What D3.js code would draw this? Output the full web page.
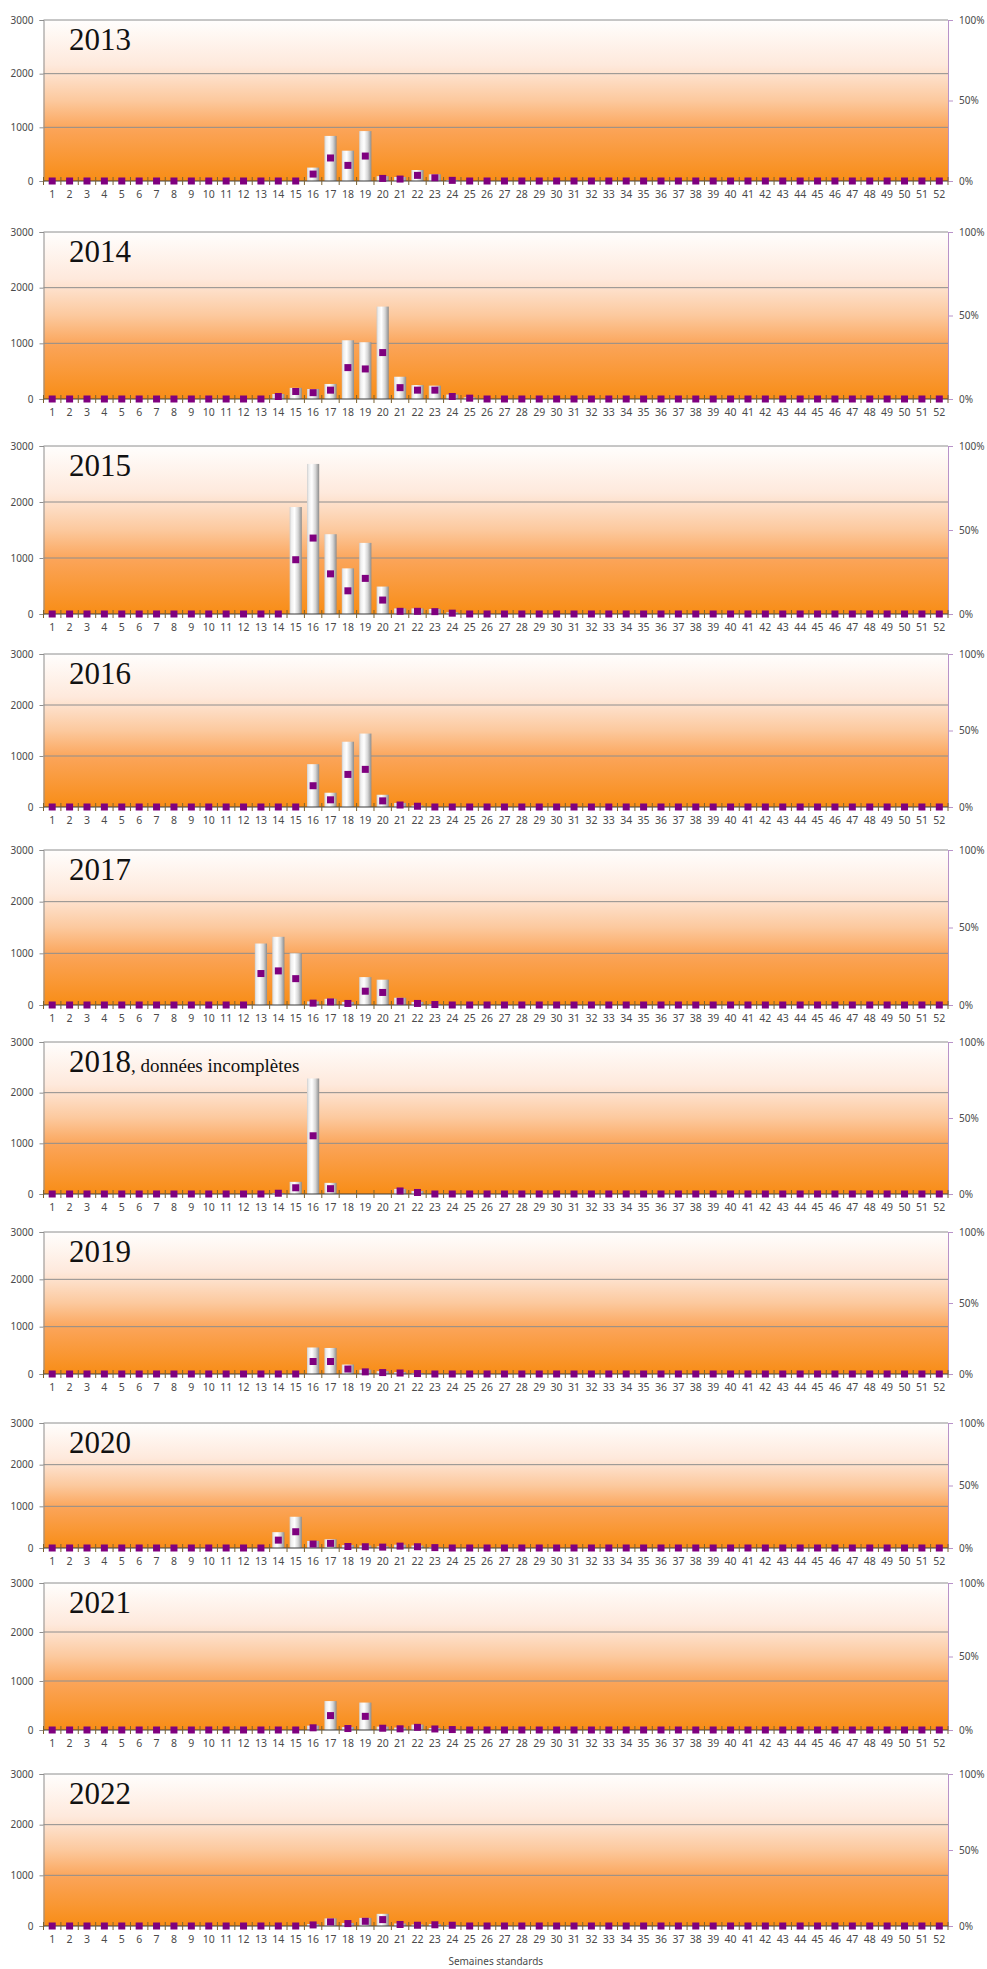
<!DOCTYPE html>
<html><head><meta charset="utf-8">
<script src="https://cdn.jsdelivr.net/npm/d3@7"></script>
<style>body{margin:0;background:#fff} svg{display:block}</style>
</head><body><svg id="c" width="987" height="1969"></svg>
<script>
// ---------------- DATA ----------------
const weeks = ["1","2","3","4","5","6","7","8","9","10","11","12","13","14","15","16","17","18","19","20","21","22","23","24","25","26","27","28","29","30","31","32","33","34","35","36","37","38","39","40","41","42","43","44","45","46","47","48","49","50","51","52"];
const years = ["2013","2014","2015","2016","2017","2018","2019","2020","2021","2022"];
const yearNotes = ["","","","","",", données incomplètes","","","",""];
const leftTicks = [0, 1000, 2000, 3000];
const rightTicks = [0, 50, 100];
const rightTickLabels = ["0%", "50%", "100%"];
const xAxisTitle = "Semaines standards";

const cases2013 = [0,0,0,0,0,0,0,0,0,0,
                   0,0,0,0,0,250,840,565,930,90,
                   75,205,125,20,0,0,0,0,0,0,
                   0,0,0,0,0,0,0,0,0,0,
                   0,0,0,0,0,0,0,0,0,0,
                   0,0];
const pct2013   = [0,0,0,0,0,0,0,0,0,0,
                   0,0,0,0,0,4.3,14.3,9.7,15.5,1.6,
                   1.2,3.5,2.0,0.4,0,0,0,0,0,0,
                   0,0,0,0,0,0,0,0,0,0,
                   0,0,0,0,0,0,0,0,0,0,
                   0,0];
const cases2014 = [0,0,0,0,0,0,0,0,0,0,
                   0,0,0,90,200,180,270,1055,1020,1660,
                   400,250,240,80,30,0,0,0,0,0,
                   0,0,0,0,0,0,0,0,0,0,
                   0,0,0,0,0,0,0,0,0,0,
                   0,0];
const pct2014   = [0,0,0,0,0,0,0,0,0,0,
                   0,0,0,1.5,4.5,3.8,5.3,18.8,18.0,27.8,
                   6.8,5.3,5.3,1.5,0.5,0,0,0,0,0,
                   0,0,0,0,0,0,0,0,0,0,
                   0,0,0,0,0,0,0,0,0,0,
                   0,0];
const cases2015 = [0,0,0,0,0,0,0,0,0,0,
                   0,0,0,0,1910,2680,1425,815,1270,490,
                   100,100,90,30,0,0,0,0,0,0,
                   0,0,0,0,0,0,0,0,0,0,
                   0,0,0,0,0,0,0,0,0,0,
                   0,0];
const pct2015   = [0,0,0,0,0,0,0,0,0,0,
                   0,0,0,0,32.3,45.2,23.9,13.8,21.2,8.3,
                   1.6,1.6,1.4,0.5,0,0,0,0,0,0,
                   0,0,0,0,0,0,0,0,0,0,
                   0,0,0,0,0,0,0,0,0,0,
                   0,0];
const cases2016 = [0,0,0,0,0,0,0,0,0,0,
                   0,0,0,0,0,840,280,1280,1440,240,
                   80,30,0,0,0,0,0,0,0,0,
                   0,0,0,0,0,0,0,0,0,0,
                   0,0,0,0,0,0,0,0,0,0,
                   0,0];
const pct2016   = [0,0,0,0,0,0,0,0,0,0,
                   0,0,0,0,0,13.9,4.7,21.3,24.6,4.0,
                   1.3,0.5,0,0,0,0,0,0,0,0,
                   0,0,0,0,0,0,0,0,0,0,
                   0,0,0,0,0,0,0,0,0,0,
                   0,0];
const cases2017 = [0,0,0,0,0,0,0,0,0,0,
                   0,0,1190,1320,1000,70,120,60,540,490,
                   140,60,20,0,0,0,0,0,0,0,
                   0,0,0,0,0,0,0,0,0,0,
                   0,0,0,0,0,0,0,0,0,0,
                   0,0];
const pct2017   = [0,0,0,0,0,0,0,0,0,0,
                   0,0,20.3,22.0,17.0,1.2,2.0,1.0,8.9,8.1,
                   2.4,1.0,0.3,0,0,0,0,0,0,0,
                   0,0,0,0,0,0,0,0,0,0,
                   0,0,0,0,0,0,0,0,0,0,
                   0,0];
const cases2018 = [0,0,0,0,0,0,0,0,0,0,
                   0,0,0,20,240,2280,220,null,null,null,
                   100,60,0,0,0,0,0,0,0,0,
                   0,0,0,0,0,0,0,0,0,0,
                   0,0,0,0,0,0,0,0,0,0,
                   0,0];
const pct2018   = [0,0,0,0,0,0,0,0,0,0,
                   0,0,0,0.5,4.1,38.3,3.5,null,null,null,
                   2.0,1.0,0,0,0,0,0,0,0,0,
                   0,0,0,0,0,0,0,0,0,0,
                   0,0,0,0,0,0,0,0,0,0,
                   0,0];
const cases2019 = [0,0,0,0,0,0,0,0,0,0,
                   0,0,0,0,0,560,550,200,90,60,
                   40,20,0,0,0,0,0,0,0,0,
                   0,0,0,0,0,0,0,0,0,0,
                   0,0,0,0,0,0,0,0,0,0,
                   0,0];
const pct2019   = [0,0,0,0,0,0,0,0,0,0,
                   0,0,0,0,0,8.8,8.8,3.5,1.5,1.0,
                   0.7,0.3,0,0,0,0,0,0,0,0,
                   0,0,0,0,0,0,0,0,0,0,
                   0,0,0,0,0,0,0,0,0,0,
                   0,0];
const cases2020 = [0,0,0,0,0,0,0,0,0,0,
                   0,0,0,380,750,170,210,70,60,40,
                   80,60,20,0,0,0,0,0,0,0,
                   0,0,0,0,0,0,0,0,0,0,
                   0,0,0,0,0,0,0,0,0,0,
                   0,0];
const pct2020   = [0,0,0,0,0,0,0,0,0,0,
                   0,0,0,6.3,13.0,3.2,3.7,1.2,1.0,0.7,
                   1.5,1.0,0.3,0,0,0,0,0,0,0,
                   0,0,0,0,0,0,0,0,0,0,
                   0,0,0,0,0,0,0,0,0,0,
                   0,0];
const cases2021 = [0,0,0,0,0,0,0,0,0,0,
                   0,0,0,0,0,90,590,60,560,70,
                   50,110,40,20,0,0,0,0,0,0,
                   0,0,0,0,0,0,0,0,0,0,
                   0,0,0,0,0,0,0,0,0,0,
                   0,0];
const pct2021   = [0,0,0,0,0,0,0,0,0,0,
                   0,0,0,0,0,1.5,9.8,1.0,9.3,1.2,
                   0.8,1.8,0.7,0.3,0,0,0,0,0,0,
                   0,0,0,0,0,0,0,0,0,0,
                   0,0,0,0,0,0,0,0,0,0,
                   0,0];
const cases2022 = [0,0,0,0,0,0,0,0,0,0,
                   0,0,0,0,0,40,150,60,160,240,
                   50,30,40,20,0,0,0,0,0,0,
                   0,0,0,0,0,0,0,0,0,0,
                   0,0,0,0,0,0,0,0,0,0,
                   0,0];
const pct2022   = [0,0,0,0,0,0,0,0,0,0,
                   0,0,0,0,0,0.7,2.7,1.6,3.1,4.2,
                   1.0,0.5,0.8,0.5,0,0,0,0,0,0,
                   0,0,0,0,0,0,0,0,0,0,
                   0,0,0,0,0,0,0,0,0,0,
                   0,0];

const casesByYear = [cases2013,cases2014,cases2015,cases2016,cases2017,cases2018,cases2019,cases2020,cases2021,cases2022];
const pctByYear   = [pct2013,pct2014,pct2015,pct2016,pct2017,pct2018,pct2019,pct2020,pct2021,pct2022];

// ---------------- LAYOUT ----------------
const plotLeft = 43.5, plotRight = 948;
const panelTops  = [20, 232, 446, 654, 850, 1042, 1232, 1423, 1583, 1774];
const panelZeros = [181, 399, 614, 807, 1005, 1194, 1374, 1548, 1730, 1926];

const svg = d3.select("#c");
const defs = svg.append("defs");
const bg = defs.append("linearGradient").attr("id","bgGrad").attr("x1",0).attr("y1",0).attr("x2",0).attr("y2",1);
[[0,"#fffefd"],[0.28,"#fee9dc"],[0.5,"#fcc99e"],[0.68,"#fba458"],[1,"#f88d16"]].forEach(s=>bg.append("stop").attr("offset",s[0]).attr("stop-color",s[1]));
const bar = defs.append("linearGradient").attr("id","barGrad").attr("x1",0).attr("y1",0).attr("x2",1).attr("y2",0);
[[0,"#cfcfcf"],[0.15,"#efefef"],[0.4,"#ffffff"],[0.7,"#d6d6d6"],[1,"#8c8c8c"]].forEach(s=>bar.append("stop").attr("offset",s[0]).attr("stop-color",s[1]));

const x = d3.scaleBand().domain(weeks).range([plotLeft, plotRight]).paddingInner(0.3).paddingOuter(0.15);
const labelFont = "'Noto Sans', 'Open Sans', sans-serif";

years.forEach((yr, i) => {
  const top = panelTops[i], zero = panelZeros[i];
  const y = d3.scaleLinear().domain([0, 3000]).range([zero, top]);
  const y2 = d3.scaleLinear().domain([0, 100]).range([zero, top]);
  const g = svg.append("g");

  g.append("rect").attr("x", plotLeft).attr("y", top).attr("width", plotRight - plotLeft)
    .attr("height", zero - top).attr("fill", "url(#bgGrad)");

  g.selectAll("line.grid").data(leftTicks.filter(t => t > 0)).join("line")
    .attr("x1", plotLeft).attr("x2", plotRight)
    .attr("y1", d => y(d)).attr("y2", d => y(d))
    .attr("stroke", "#8e8e8e").attr("stroke-width", 1);

  const la = g.append("g").attr("transform", `translate(${plotLeft},0)`)
    .call(d3.axisLeft(y).tickValues(leftTicks).tickFormat(d3.format("d")).tickSize(4).tickPadding(6));
  la.select(".domain").attr("stroke", "#8e8e8e");
  la.selectAll(".tick line").attr("stroke", "#8e8e8e");
  la.selectAll("text").attr("font-family", labelFont).attr("font-size", 10).attr("fill", "#4a4a4a");

  const ra = g.append("g").attr("transform", `translate(${plotRight},0)`)
    .call(d3.axisRight(y2).tickValues(rightTicks).tickFormat((d, k) => rightTickLabels[k]).tickSize(5).tickPadding(6));
  ra.select(".domain").attr("stroke", "#b893c9");
  ra.selectAll(".tick line").attr("stroke", "#b893c9");
  ra.selectAll("text").attr("font-family", labelFont).attr("font-size", 10).attr("fill", "#4a4a4a");

  const data = weeks.map((w, k) => ({ w, v: casesByYear[i][k], p: pctByYear[i][k] }));
  g.selectAll("rect.bar").data(data.filter(d => d.v != null && d.v > 0)).join("rect")
    .attr("x", d => x(d.w)).attr("width", x.bandwidth())
    .attr("y", d => y(d.v)).attr("height", d => y(0) - y(d.v))
    .attr("fill", "url(#barGrad)");

  g.append("line").attr("x1", plotLeft).attr("x2", plotRight).attr("y1", zero).attr("y2", zero)
    .attr("stroke", "#3a3a3a").attr("stroke-width", 1);
  const step = x.step();
  const bounds = weeks.map(w => x(w) - (step - x.bandwidth()) / 2).concat([plotRight]);
  g.selectAll("line.xt").data(bounds).join("line")
    .attr("x1", d => d).attr("x2", d => d).attr("y1", zero - 4).attr("y2", zero + 4)
    .attr("stroke", "#7a6230").attr("stroke-width", 1);

  g.selectAll("text.xl").data(weeks).join("text")
    .attr("x", d => x(d) + x.bandwidth() / 2).attr("y", zero + 17)
    .attr("text-anchor", "middle").attr("font-family", labelFont).attr("font-size", 10.5)
    .attr("fill", "#4a4a4a").text(d => d);

  const ms = 7;
  g.selectAll("rect.mk").data(data.filter(d => d.p != null)).join("rect")
    .attr("x", d => x(d.w) + x.bandwidth() / 2 - ms / 2).attr("y", d => y2(d.p) - ms / 2)
    .attr("width", ms).attr("height", ms).attr("fill", "#7f007f");

  const t = g.append("text").attr("x", 69).attr("y", top + 30)
    .attr("font-family", "'Liberation Serif', 'DejaVu Serif', serif").attr("font-size", 31).attr("fill", "#111");
  t.append("tspan").text(yr);
  if (yearNotes[i]) t.append("tspan").attr("font-size", 19).text(yearNotes[i]);
});

svg.append("text").attr("x", (plotLeft + plotRight) / 2).attr("y", 1965)
  .attr("text-anchor", "middle").attr("font-family", labelFont).attr("font-size", 10)
  .attr("fill", "#4a4a4a").text(xAxisTitle);
</script>
</body></html>
